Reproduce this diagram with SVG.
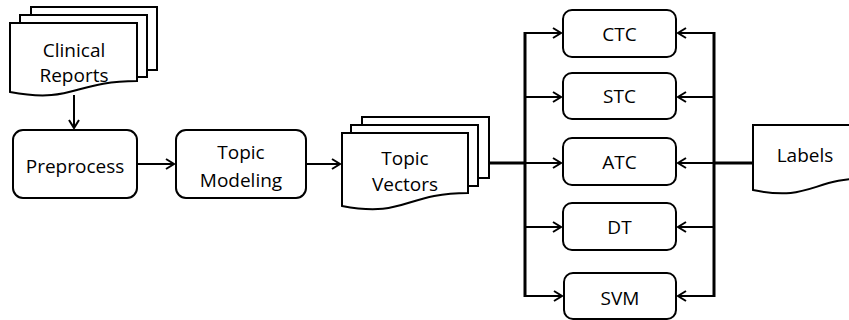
<svg xmlns="http://www.w3.org/2000/svg" width="849" height="320" viewBox="0 0 849 320">
<style>
  .box { fill: #fff; stroke: #000; stroke-width: 2; }
  .doc { fill: #fff; stroke: #000; stroke-width: 2; stroke-linejoin: miter; }
  .lbl { font-family: "Open Sans", "Liberation Sans", sans-serif; font-size: 19px; fill: #000; text-anchor: middle; }
  .arr { stroke: #000; stroke-width: 2; fill: none; marker-end: url(#ah); }
  .bus { stroke: #000; stroke-width: 3; fill: none; }
</style>
<defs>
  <marker id="ah" viewBox="-10 -6 12 12" refX="0" refY="0" markerWidth="12" markerHeight="12" markerUnits="userSpaceOnUse" orient="auto">
    <path d="M-8,-5 L0,0 L-8,5" fill="none" stroke="#000" stroke-width="2"/>
  </marker>
</defs>
<rect width="849" height="320" fill="#fff"/>

<g id="clinical-reports">
  <rect class="doc" x="31" y="7" width="126" height="63"/>
  <rect class="doc" x="20" y="15" width="127" height="62"/>
  <path class="doc" d="M10,23 H137 V81 C73.5,81 73.5,104 10,92 Z"/>
  <text class="lbl" x="74" y="57">Clinical</text>
  <text class="lbl" x="74" y="82">Reports</text>
</g>

<g id="preprocess">
  <rect class="box" x="13" y="130" width="124" height="68" rx="10"/>
  <text class="lbl" x="75" y="173">Preprocess</text>
</g>

<g id="topic-modeling">
  <rect class="box" x="176" y="130" width="130" height="68" rx="10"/>
  <text class="lbl" x="241" y="159">Topic</text>
  <text class="lbl" x="241" y="187">Modeling</text>
</g>

<g id="topic-vectors">
  <rect class="doc" x="362" y="117" width="127" height="61"/>
  <rect class="doc" x="351" y="125" width="127" height="61"/>
  <path class="doc" d="M342,133 H468 V193 C405,193 405,218 342,206 Z"/>
  <text class="lbl" x="405" y="165">Topic</text>
  <text class="lbl" x="405" y="191">Vectors</text>
</g>

<g id="ctc">
  <rect class="box" x="563" y="10" width="113" height="47" rx="9"/>
  <text class="lbl" x="619.5" y="41">CTC</text>
</g>
<g id="stc">
  <rect class="box" x="563" y="73" width="113" height="46" rx="9"/>
  <text class="lbl" x="619.5" y="103">STC</text>
</g>
<g id="atc">
  <rect class="box" x="563" y="138" width="113" height="47" rx="9"/>
  <text class="lbl" x="619.5" y="169">ATC</text>
</g>
<g id="dt">
  <rect class="box" x="563" y="203" width="113" height="47" rx="9"/>
  <text class="lbl" x="619.5" y="234">DT</text>
</g>
<g id="svm">
  <rect class="box" x="564" y="273" width="112" height="46" rx="9"/>
  <text class="lbl" x="620" y="305">SVM</text>
</g>

<g id="labels">
  <path class="doc" d="M753,125 H870 V178 C811,178 811,202 753,190 Z"/>
  <text class="lbl" x="805" y="162">Labels</text>
</g>

<g id="connectors">
  <line class="arr" x1="74" y1="95" x2="74" y2="128"/>
  <line class="arr" x1="137" y1="164" x2="174" y2="164"/>
  <line class="arr" x1="306" y1="164" x2="340" y2="164"/>
  <line class="bus" x1="489" y1="163" x2="526" y2="163"/>
  <line class="bus" x1="525" y1="32" x2="525" y2="297"/>
  <line class="arr" x1="525" y1="33" x2="561" y2="33"/>
  <line class="arr" x1="525" y1="97" x2="561" y2="97"/>
  <line class="arr" x1="525" y1="163" x2="561" y2="163"/>
  <line class="arr" x1="525" y1="227" x2="561" y2="227"/>
  <line class="arr" x1="525" y1="296" x2="562" y2="296"/>
  <line class="bus" x1="753" y1="163" x2="713" y2="163"/>
  <line class="bus" x1="714" y1="32" x2="714" y2="297"/>
  <line class="arr" x1="714" y1="33" x2="678" y2="33"/>
  <line class="arr" x1="714" y1="97" x2="678" y2="97"/>
  <line class="arr" x1="714" y1="163" x2="678" y2="163"/>
  <line class="arr" x1="714" y1="227" x2="678" y2="227"/>
  <line class="arr" x1="714" y1="296" x2="678" y2="296"/>
</g>
</svg>
